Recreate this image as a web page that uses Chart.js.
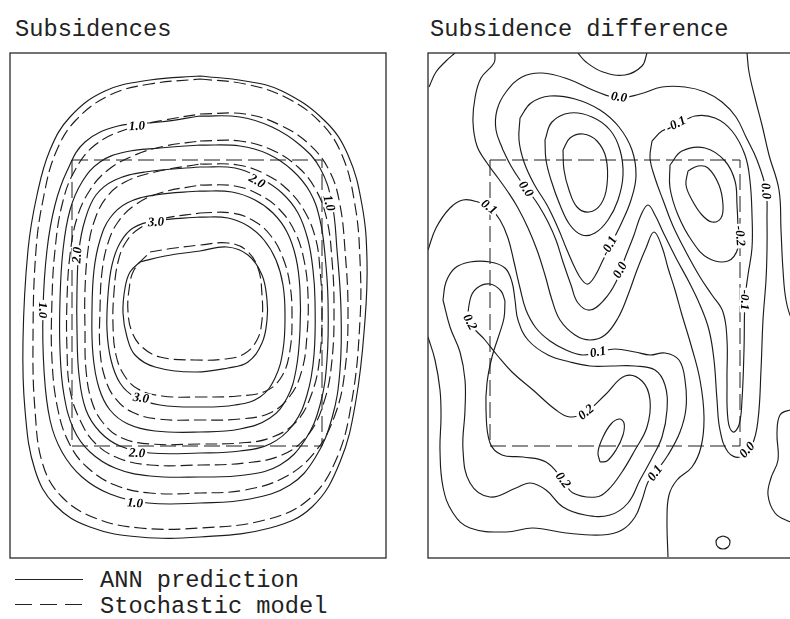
<!DOCTYPE html>
<html>
<head>
<meta charset="utf-8">
<script src="https://cdn.jsdelivr.net/npm/chart.js@4.4.1/dist/chart.umd.min.js"></script>
<style>
  html, body { margin: 0; padding: 0; background: #fff; }
  body { width: 790px; height: 619px; overflow: hidden; position: relative; }
  .panel { position: absolute; top: 47px; }
  .txt { position: absolute; font-family: 'Liberation Mono', monospace; font-size: 23.7px;
         line-height: 23.7px; color: #222; white-space: pre; }
  .key { position: absolute; left: 15px; width: 68px; height: 1.3px; }
</style>
</head>
<body>
<div class="txt" style="left:15px; top:18px;">Subsidences</div>
<div class="txt" style="left:430px; top:18px;">Subsidence difference</div>

<canvas id="leftMap" class="panel" width="388" height="517" style="left:4px"></canvas>
<canvas id="rightMap" class="panel" width="388" height="517" style="left:422px"></canvas>

<div class="key" style="top:579px; background:#222;"></div>
<div class="txt" style="left:100px; top:569px;">ANN prediction</div>
<div class="key" style="top:604px; background:repeating-linear-gradient(to right,#222 0 17px,transparent 17px 25px);"></div>
<div class="txt" style="left:100px; top:595px;">Stochastic model</div>

<script>
// map units: x = 0..376 east, y = 0..505 north (both panels share the same frame)

// ---- left panel: subsidence contours, ANN prediction (solid) ----
const ann05 = [[190,482],[235,477],[272,467],[315,437],[338,403],[352,353],[357,298],[355,238],[346,158],[330,96],[302,51],[260,30],[190,21],[130,21],[80,31],[45,53],[25,88],[15,148],[13,218],[18,308],[27,363],[40,408],[60,441],[95,467],[140,478],[190,482]];
const ann10 = [[190,442],[230,441],[262,431],[290,413],[310,390],[322,355],[327,308],[331,248],[330,188],[322,140],[305,100],[280,73],[240,59],[190,55],[138,55],[100,64],[72,81],[52,106],[40,138],[34,188],[33,248],[37,308],[45,353],[57,387],[75,416],[108,432],[150,436],[190,442]];
const ann15 = [[190,413],[230,412],[258,404],[282,388],[300,366],[310,338],[315,303],[318,258],[317,198],[310,153],[295,118],[270,93],[235,83],[190,81],[140,82],[105,90],[80,106],[64,128],[54,163],[50,208],[50,258],[53,308],[60,348],[72,376],[90,396],[115,406],[150,410],[190,413]];
const ann20 = [[190,391],[225,390],[250,380],[272,365],[288,345],[298,318],[303,288],[305,258],[304,203],[297,163],[283,133],[260,114],[230,107],[190,105],[140,105],[110,112],[90,126],[76,148],[69,183],[67,228],[67,268],[69,308],[75,338],[86,363],[105,378],[135,386],[190,391]];
const ann25 = [[190,367],[222,366],[245,358],[263,345],[277,326],[286,300],[290,268],[290,228],[286,188],[277,160],[260,140],[230,129],[190,126],[145,127],[118,134],[100,148],[89,170],[83,203],[82,248],[84,288],[90,318],[100,340],[117,355],[145,363],[190,367]];
const ann30 = [[190,341],[218,340],[238,332],[254,318],[266,298],[273,273],[275,243],[273,208],[265,180],[250,161],[225,153],[190,151],[150,153],[125,161],[110,175],[101,198],[97,228],[98,263],[102,293],[110,315],[123,330],[145,337],[190,341]];
const ann35 = [[130,296],[155,302],[190,307],[217,311],[238,303],[252,283],[257,258],[257,238],[252,215],[238,196],[218,190],[185,186],[145,191],[125,203],[117,221],[113,245],[115,270],[120,286],[130,296]];

// ---- left panel: stochastic model (dashed) ----
const sto05 = [[190,479],[235,474],[275,461],[310,436],[332,403],[345,353],[350,298],[350,238],[342,158],[326,98],[298,58],[255,38],[190,30],[130,30],[85,40],[52,61],[33,93],[25,148],[23,218],[26,308],[34,363],[46,406],[66,438],[100,463],[140,474],[190,479]];
const sto10 = [[190,444],[235,444],[270,433],[300,413],[320,386],[330,353],[335,308],[338,248],[335,188],[325,143],[305,106],[275,81],[235,68],[190,65],[140,65],[105,73],[78,90],[60,113],[48,148],[42,198],[42,258],[45,308],[52,353],[64,386],[85,413],[120,430],[155,438],[190,444]];
const sto15 = [[190,417],[230,417],[262,408],[288,391],[306,368],[317,338],[322,298],[324,253],[322,198],[314,156],[298,123],[272,103],[235,95],[190,93],[140,93],[108,100],[85,115],[70,138],[60,168],[57,208],[57,258],[60,303],[67,340],[80,368],[98,388],[125,403],[155,412],[190,417]];
const sto20 = [[190,394],[228,393],[255,384],[278,368],[295,346],[306,318],[310,288],[312,253],[310,203],[302,165],[286,136],[260,120],[230,115],[190,114],[140,114],[112,120],[94,134],[82,156],[76,188],[75,228],[75,268],[78,308],[84,336],[96,360],[115,376],[145,386],[190,394]];
const sto25 = [[190,373],[225,372],[250,363],[270,348],[285,326],[294,298],[298,263],[297,223],[292,188],[280,162],[260,145],[230,139],[190,138],[148,139],[122,146],[105,160],[95,180],[90,208],[90,248],[92,286],[98,315],[108,336],[125,353],[150,365],[190,373]];
const sto30 = [[190,345],[222,345],[244,337],[261,322],[273,300],[280,273],[282,243],[280,208],[272,182],[256,167],[228,162],[190,161],[152,162],[128,169],[114,183],[106,203],[103,233],[104,266],[108,296],[116,316],[130,330],[152,339],[190,345]];
const sto35 = [[140,306],[165,310],[190,313],[218,315],[236,308],[248,290],[252,263],[252,238],[247,218],[234,204],[215,199],[185,198],[150,201],[132,211],[122,226],[118,246],[119,268],[124,288],[140,306]];

// mined zone outline (dashed rectangle), same in both panels
const zoneX = [62, 312];
const zoneY = [112, 398];

// contour labels: [text, x, y, angle in degrees]
const leftLabels = [
  ['1.0',127,432,-3], ['2.0',247,377,30], ['1.0',319,355,75], ['3.0',146,336,-2],
  ['2.0',67,303,-85], ['1.0',33,248,90], ['3.0',131,160,8], ['2.0',127,105,3], ['1.0',125,55,4]
];

// ---- right panel: subsidence difference contours ----
const difCorner = [[1,471],[8,486],[18,497],[27,505]];
const difTopBump = [[150,505],[158,496],[175,486],[197,483],[214,492],[219,505]];
const difZeroWest = [[67,505],[66,495],[53,480],[47,460],[45,436],[49,412],[59,395],[70,380],[80,366],[90,350],[100,330],[109,308],[117,283],[124,258],[132,238],[147,223],[162,218],[177,223],[190,240],[200,263],[209,288],[218,310],[226,326],[234,311],[240,290],[247,268],[254,243],[263,213],[272,178],[276,141],[273,111],[264,91],[249,78],[241,63],[239,38],[240,1]];
const difZeroRing = [[75,408],[68,428],[69,448],[78,466],[94,481],[114,485],[140,479],[167,467],[190,460],[212,464],[234,471],[257,471],[277,466],[294,456],[308,441],[318,421],[329,398],[338,368],[339,338],[339,308],[338,278],[335,238],[333,188],[330,138],[324,113],[312,101],[300,106],[292,128],[289,158],[286,198],[281,228],[272,253],[261,276],[248,300],[236,324],[227,343],[220,353],[213,343],[206,323],[197,300],[188,276],[176,258],[162,248],[150,255],[143,273],[135,296],[128,318],[120,336],[111,352],[102,365],[92,378],[83,392],[75,408]];
const difNeg1West = [[92,440],[91,418],[96,396],[106,374],[119,353],[130,330],[139,308],[147,290],[154,278],[160,274],[167,282],[175,298],[184,316],[194,336],[203,358],[208,382],[204,408],[191,431],[172,448],[147,459],[122,462],[103,455],[92,440]];
const difNeg15West = [[117,418],[124,436],[142,445],[164,441],[182,428],[192,408],[195,383],[190,358],[180,338],[167,325],[154,323],[142,333],[132,353],[123,378],[118,398],[117,418]];
const difNeg2West = [[135,408],[142,420],[155,424],[169,417],[178,400],[179,373],[173,354],[161,346],[149,351],[141,368],[136,388],[135,408]];
const difNeg1East = [[224,417],[234,427],[249,433],[267,442],[287,440],[304,427],[317,403],[322,377],[324,343],[324,310],[320,283],[317,258],[316,208],[314,158],[311,133],[305,126],[300,138],[299,178],[299,218],[295,246],[284,263],[272,281],[258,306],[245,332],[235,358],[227,380],[222,400],[224,417]];
const difNeg2East = [[242,393],[254,407],[277,410],[297,397],[307,377],[309,353],[310,330],[310,310],[300,297],[280,300],[264,317],[250,343],[242,370],[242,393]];
const difNeg3East = [[260,387],[270,392],[280,390],[291,373],[295,353],[293,340],[284,336],[274,343],[264,358],[258,373],[260,387]];
const difEastEdge = [[319,505],[321,486],[327,460],[334,433],[341,403],[351,368],[353,328],[355,288],[358,258],[364,238],[372,228]];
const difEastLobe = [[372,150],[362,148],[352,143],[349,125],[350,98],[343,80],[340,63],[347,45],[360,37],[372,34]];
const difSmallLoop = [[295,22],[300,20],[302,16],[300,11],[295,9],[290,11],[288,16],[290,20],[295,22]];
const difPos1 = [[0,221],[7,198],[12,168],[13,141],[12,108],[15,71],[25,45],[42,30],[78,26],[105,30],[138,25],[174,23],[194,28],[207,41],[214,58],[220,76],[227,85],[240,103],[252,126],[258,150],[257,178],[251,198],[237,205],[222,203],[207,206],[187,209],[170,206],[155,203],[138,208],[122,217],[108,230],[98,248],[92,270],[86,296],[80,320],[72,338],[62,350],[50,356],[35,358],[22,350],[8,330],[0,308]];
const difPos15 = [[15,258],[18,276],[27,290],[42,296],[62,296],[77,290],[84,276],[87,258],[90,238],[100,218],[120,203],[142,196],[162,192],[184,192],[207,192],[227,188],[237,173],[239,148],[234,121],[224,100],[212,78],[200,55],[182,43],[157,43],[135,51],[118,68],[102,75],[88,70],[62,61],[42,75],[35,108],[37,148],[37,178],[32,206],[22,231],[15,258]];
const difPos2 = [[77,257],[73,267],[62,274],[49,270],[42,258],[42,236],[57,218],[69,203],[84,186],[105,168],[128,148],[142,141],[158,146],[177,163],[197,182],[214,177],[222,158],[219,131],[207,108],[194,86],[180,68],[168,61],[145,65],[135,78],[118,96],[95,101],[74,103],[62,115],[58,148],[59,175],[64,201],[71,223],[76,240],[77,257]];
const difPos25 = [[172,96],[170,106],[175,121],[183,134],[191,139],[196,135],[195,123],[188,108],[179,97],[172,96]];

const rightLabels = [
  ['0.0',191,461,8], ['-0.1',248,434,-26], ['0.0',98,369,55], ['0.1',61,351,38],
  ['0.0',338,367,85], ['-0.2',312,322,85], ['-0.1',181,312,-62], ['0.0',192,288,-62],
  ['-0.1',317,258,90], ['0.2',42,236,62], ['0.1',170,206,-10], ['0.2',158,146,-40],
  ['0.2',135,78,52], ['0.1',227,85,-53], ['0.0',319,108,-48]
];

const INK = '#1c1c1c';

function toXY(pts) {
  return pts.map(p => ({ x: p[0], y: p[1] }));
}

function contour(pts, dashed) {
  return {
    data: toXY(pts),
    showLine: true,
    borderColor: INK,
    borderWidth: 1.15,
    borderDash: dashed ? [12, 5] : [],
    tension: 0.4,
    pointRadius: 0,
    fill: false
  };
}

function zoneOutline() {
  const pts = [[zoneX[0],zoneY[1]],[zoneX[1],zoneY[1]],[zoneX[1],zoneY[0]],[zoneX[0],zoneY[0]],[zoneX[0],zoneY[1]]];
  return { data: toXY(pts), showLine: true, borderColor: INK, borderWidth: 1,
           borderDash: [16, 6], tension: 0, pointRadius: 0, fill: false };
}

// frame around the map + labels written along the lines
function mapDecor(labels) {
  return {
    id: 'mapDecor',
    afterDatasetsDraw(chart) {
      const { ctx, chartArea: a, scales: { x, y } } = chart;
      ctx.save();
      ctx.font = 'italic bold 13px "Liberation Serif"';
      ctx.textAlign = 'center';
      ctx.textBaseline = 'middle';
      labels.forEach(([text, vx, vy, rot]) => {
        ctx.save();
        ctx.translate(x.getPixelForValue(vx), y.getPixelForValue(vy));
        ctx.rotate(rot * Math.PI / 180);
        const w = ctx.measureText(text).width;
        ctx.fillStyle = '#fff';
        ctx.fillRect(-w / 2 - 2, -5.5, w + 4, 11);
        ctx.fillStyle = '#000';
        ctx.fillText(text, 0, 0.5);
        ctx.restore();
      });
      ctx.strokeStyle = '#2a2a2a';
      ctx.lineWidth = 1.3;
      ctx.strokeRect(a.left, a.top, a.right - a.left, a.bottom - a.top);
      ctx.restore();
    }
  };
}

function makeMap(id, datasets, labels) {
  return new Chart(document.getElementById(id), {
    type: 'scatter',
    data: { datasets },
    options: {
      responsive: false,
      animation: false,
      events: [],
      layout: { padding: 6 },
      plugins: { legend: { display: false }, tooltip: { enabled: false } },
      scales: {
        x: { type: 'linear', min: 0, max: 376, display: false },
        y: { type: 'linear', min: 0, max: 505, display: false }
      }
    },
    plugins: [mapDecor(labels)]
  });
}

const annLines = [ann05, ann10, ann15, ann20, ann25, ann30, ann35];
const stoLines = [sto05, sto10, sto15, sto20, sto25, sto30, sto35];
makeMap('leftMap',
  [...annLines.map(c => contour(c, false)), ...stoLines.map(c => contour(c, true)), zoneOutline()],
  leftLabels);

const difLines = [difCorner, difTopBump, difZeroWest, difZeroRing, difNeg1West, difNeg15West, difNeg2West,
  difNeg1East, difNeg2East, difNeg3East, difEastEdge, difEastLobe, difSmallLoop,
  difPos1, difPos15, difPos2, difPos25];
makeMap('rightMap', [...difLines.map(c => contour(c, false)), zoneOutline()], rightLabels);
</script>
</body>
</html>
